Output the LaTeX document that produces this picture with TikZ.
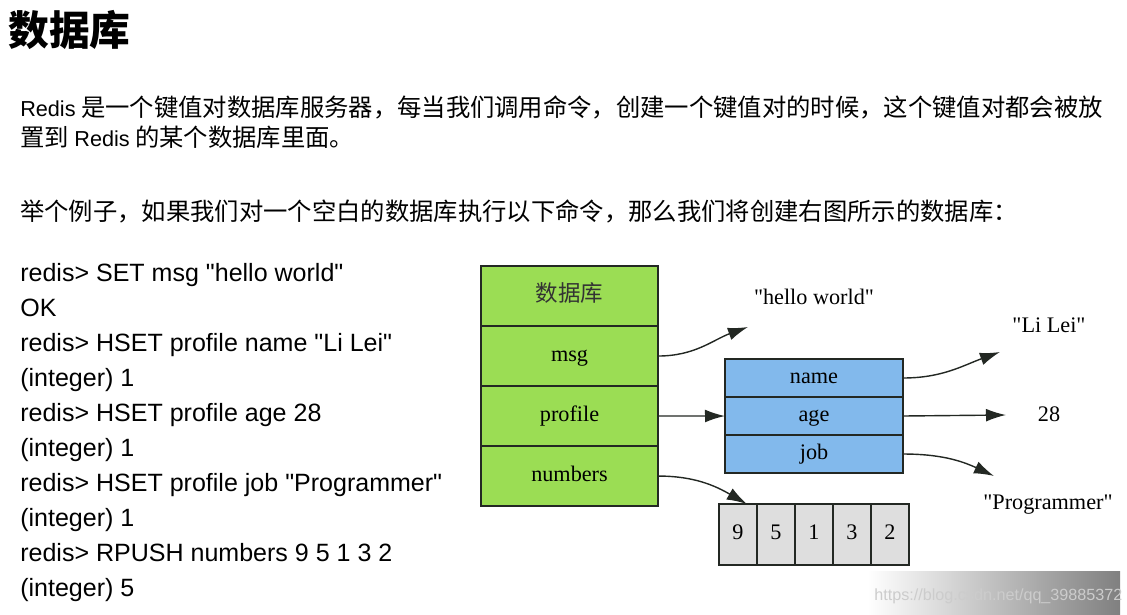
\documentclass[tikz,border=0pt]{standalone}
\usepackage{fontspec}
\usepackage{xcolor}
\usepackage{tikz}
\usetikzlibrary{positioning,arrows.meta}
\setmainfont{Liberation Sans}
\newfontfamily\codefont{Liberation Sans}
\newfontfamily\diagserif{Liberation Serif}
\newfontfamily\cjk{Noto Sans CJK SC}
\definecolor{dbgreen}{RGB}{155,221,84}
\definecolor{hashblue}{RGB}{130,185,236}
\definecolor{listgray}{RGB}{222,222,222}
\definecolor{edge}{RGB}{35,40,35}

\begin{document}
\begin{tikzpicture}[x=0.025cm, y=-0.025cm,
    txt/.style = {anchor=base west, inner sep=0pt, font=\cjk\fontsize{17.3}{20}\selectfont},
    code/.style = {anchor=base west, inner sep=0pt, font=\codefont\fontsize{17.8}{20}\selectfont},
    cell/.style = {draw=edge, line width=1.3pt, inner sep=0pt, outer sep=0pt,
                   font=\diagserif\fontsize{15.8}{18}\selectfont,
                   text height=0.85em, text depth=0.1em},
    dbrow/.style = {cell, fill=dbgreen, minimum width=4.425cm, minimum height=1.5cm},
    hashrow/.style = {cell, fill=hashblue, minimum width=4.45cm, minimum height=0.95cm},
    listcell/.style = {cell, fill=listgray, minimum width=0.95cm, minimum height=1.525cm},
    val/.style = {inner sep=0pt, font=\diagserif\fontsize{15.8}{18}\selectfont},
    arr/.style = {-{Latex[length=0.5cm,width=0.32cm]}, line width=1pt, edge}
    ]
    \useasboundingbox (0,0) rectangle (1127,615);
    \newcommand\lat[1]{{\codefont\fontsize{15.4}{20}\selectfont #1}}

    % title and text
    \node[anchor=base west, inner sep=0pt] (title) at (8,46)
        {\cjk\bfseries\fontsize{29}{32}\selectfont 数据库};
    \node[txt] (intro1) at (20,117)
        {\lat{Redis} 是一个键值对数据库服务器，每当我们调用命令，创建一个键值对的时候，这个键值对都会被放};
    \node[txt] (intro2) at (20,147) {置到 \lat{Redis} 的某个数据库里面。};
    \node[txt] (intro3) at (20,221)
        {举个例子，如果我们对一个空白的数据库执行以下命令，那么我们将创建右图所示的数据库：};

    % commands
    \foreach \line [count=\i] in {{redis> SET msg "hello world"}, {OK},
        {redis> HSET profile name "Li Lei"}, {(integer) 1},
        {redis> HSET profile age 28}, {(integer) 1},
        {redis> HSET profile job "Programmer"}, {(integer) 1},
        {redis> RPUSH numbers 9 5 1 3 2}, {(integer) 5}}
        \node[code] (cmd\i) at (20,{282+35*(\i-1)}) {\line};

    % database
    \node[dbrow, anchor=north west] (db) at (481,266)
        {\cjk\fontsize{16}{18}\selectfont\color{black!80}数据库};
    \node[dbrow, below=0pt of db] (msg) {msg};
    \node[dbrow, below=0pt of msg] (profile) {profile};
    \node[dbrow, below=0pt of profile] (numbers) {numbers};

    % hash
    \node[hashrow, anchor=north west] (name) at (725,359) {name};
    \node[hashrow, below=0pt of name] (age) {age};
    \node[hashrow, below=0pt of age] (job) {job};

    % list
    \node[listcell, anchor=north west] (n9) at (719,504) {9};
    \node[listcell, right=0pt of n9] (n5) {5};
    \node[listcell, right=0pt of n5] (n1) {1};
    \node[listcell, right=0pt of n1] (n3) {3};
    \node[listcell, right=0pt of n3] (n2) {2};

    % values
    \node[val] (hello) at (814,297) {"hello world"};
    \node[val] (lilei) at (1049,325) {"Li Lei"};
    \node[val] (v28) at (1049,414) {28};
    \node[val] (prog) at (1048,505) {"Programmer"};

    \coordinate (hellotip) at (748,327);
    \coordinate (lileitip) at (1000,352);
    \coordinate (agetip) at (1006,415);
    \coordinate (progtip) at (994,476);

    \draw[arr] (msg.east) to[out=0, in=200] (hellotip);
    \draw[arr] (profile.east) -- (age.west);
    \draw[arr] (numbers.east) to[out=0, in=150] ([xshift=0.22cm]n9.north);
    \draw[arr] (name.east) to[out=0, in=200] (lileitip);
    \draw[arr] (age.east) -- (agetip);
    \draw[arr] (job.east) to[out=0, in=155] (progtip);

    % watermark
    \shade[left color=white, right color=black!50] (868,572) rectangle (1120,615);
    \node[anchor=base west, inner sep=0pt, text=white!80!black,
          font=\codefont\fontsize{11.5}{13}\selectfont] (mark) at (874,601)
        {https://blog.csdn.net/qq\_39885372};
\end{tikzpicture}
\end{document}
